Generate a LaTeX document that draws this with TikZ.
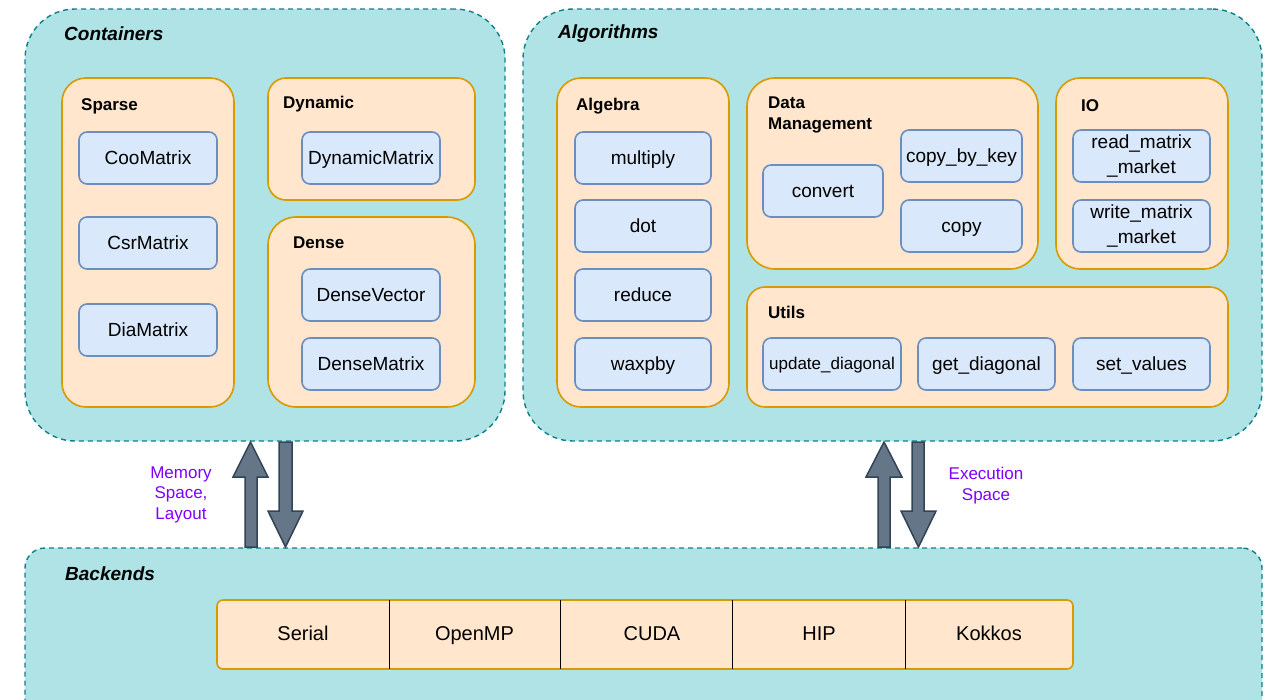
\documentclass[tikz,border=0pt]{standalone}
\usepackage{fontspec}
\setmainfont{Liberation Sans}
\definecolor{tealfill}{HTML}{B0E3E6}
\definecolor{tealline}{HTML}{0E8088}
\definecolor{orfill}{HTML}{FFE6CC}
\definecolor{orline}{HTML}{D79B00}
\definecolor{blfill}{HTML}{DAE8FC}
\definecolor{blline}{HTML}{6C8EBF}
\definecolor{arrfill}{HTML}{647687}
\definecolor{arrline}{HTML}{314354}
\definecolor{purp}{HTML}{7F00FF}
\tikzset{
  outerbox/.style={draw=tealline, fill=tealfill, line width=1.4pt, dash pattern=on 5pt off 4pt, inner sep=0pt},
  grpbox/.style={draw=orline, fill=orfill, line width=1.6pt, inner sep=0pt},
  itembox/.style={draw=blline, fill=blfill, line width=1.6pt, rounded corners=8pt, inner sep=0pt, minimum height=52pt, font=\fontsize{19}{24}\selectfont, align=center},
  oneline/.style={text height=15pt, text depth=3pt},
  titlelbl/.style={font=\fontsize{19}{23}\selectfont\bfseries\itshape, anchor=west, inner sep=0pt},
  grplbl/.style={font=\fontsize{17}{21}\selectfont\bfseries, anchor=west, inner sep=0pt, align=left},
  cell/.style={inner sep=0pt, minimum height=69pt, font=\fontsize{20}{24}\selectfont, text height=15.5pt, text depth=3pt},
  blockarrow/.style={draw=arrline, fill=arrfill, line width=1.5pt, line join=miter},
  arrlbl/.style={text=purp, font=\fontsize{17}{20.5}\selectfont, align=center, inner sep=0pt}
}
\begin{document}
\begin{tikzpicture}[x=1pt, y=-1pt]
\useasboundingbox (0,0) rectangle (1265,699);
\clip (0,0) rectangle (1265,699);

% outer areas
\node[outerbox, rounded corners=50pt, minimum width=480pt, minimum height=432pt] (cont) at (265,225) {};
\node[outerbox, rounded corners=50pt, minimum width=739pt, minimum height=432pt] (algo) at (892.5,225) {};
\node[outerbox, rounded corners=20pt, minimum width=1237pt, minimum height=192pt] (back) at (643.5,644) {};

\node[titlelbl] (contlbl) at (64,34) {Containers};
\node[titlelbl] (algolbl) at (558,34) {Algorithms};
\node[titlelbl] (backlbl) at (65,574) {Backends};

% Containers groups
\node[grpbox, rounded corners=24pt, minimum width=172pt, minimum height=329pt] (sparse) at (148,242.5) {};
\node[grpbox, rounded corners=18pt, minimum width=207pt, minimum height=122pt] (dynamic) at (371.5,139) {};
\node[grpbox, rounded corners=28pt, minimum width=207pt, minimum height=190pt] (dense) at (371.5,312) {};
\node[grplbl] (sparselbl) at (81,106) {Sparse};
\node[grplbl] (dynamiclbl) at (283,104) {Dynamic};
\node[grplbl] (denselbl) at (293,243) {Dense};

\node[itembox, oneline, minimum width=138pt] (coo) at (148,158) {CooMatrix};
\node[itembox, oneline, minimum width=138pt] (csr) at (148,243) {CsrMatrix};
\node[itembox, oneline, minimum width=138pt] (dia) at (148,330) {DiaMatrix};
\node[itembox, oneline, minimum width=138pt] (dynm) at (371,158) {DynamicMatrix};
\node[itembox, oneline, minimum width=138pt] (dvec) at (371,295) {DenseVector};
\node[itembox, oneline, minimum width=138pt] (dmat) at (371,364) {DenseMatrix};

% Algorithms groups
\node[grpbox, rounded corners=24pt, minimum width=172pt, minimum height=329pt] (algebra) at (643,242.5) {};
\node[grpbox, rounded corners=28pt, minimum width=291pt, minimum height=191pt] (datam) at (892.5,173.5) {};
\node[grpbox, rounded corners=24pt, minimum width=172pt, minimum height=191pt] (io) at (1142,173.5) {};
\node[grpbox, rounded corners=18pt, minimum width=481pt, minimum height=120pt] (utils) at (987.5,347) {};
\node[grplbl] (algebralbl) at (576,106) {Algebra};
\node[grplbl] (datamlbl) at (768,114.5) {Data\\Management};
\node[grplbl] (iolbl) at (1081,106) {IO};
\node[grplbl] (utilslbl) at (768,312) {Utils};

\node[itembox, oneline, minimum width=136pt] (mult) at (643,158) {multiply};
\node[itembox, oneline, minimum width=136pt] (dot) at (643,226) {dot};
\node[itembox, oneline, minimum width=136pt] (reduce) at (643,295) {reduce};
\node[itembox, oneline, minimum width=136pt] (waxpby) at (643,364) {waxpby};

\node[itembox, oneline, minimum width=120pt] (convert) at (823,191) {convert};
\node[itembox, oneline, minimum width=121pt] (cbk) at (961.5,156) {copy\_by\_key};
\node[itembox, oneline, minimum width=121pt] (copy) at (961.5,226) {copy};

\node[itembox, minimum width=137pt, font=\fontsize{19}{25}\selectfont] (rmm) at (1141.5,156) {read\_matrix\\\_market};
\node[itembox, minimum width=137pt, font=\fontsize{19}{25}\selectfont] (wmm) at (1141.5,226) {write\_matrix\\\_market};

\node[itembox, minimum width=138pt, font=\fontsize{17}{21}\selectfont, text height=13.5pt, text depth=3pt] (upd) at (832,364) {update\_diagonal};
\node[itembox, oneline, minimum width=137pt] (getd) at (986.5,364) {get\_diagonal};
\node[itembox, oneline, minimum width=137pt] (setv) at (1141.5,364) {set\_values};

% Backends strip
\node[grpbox, rounded corners=6pt, minimum width=856pt, minimum height=69pt] (strip) at (645,634.5) {};
\node[cell, minimum width=172pt] (serial) at (303,634.5) {Serial};
\node[cell, minimum width=171pt] (openmp) at (474.5,634.5) {OpenMP};
\node[cell] (cuda) at (652,634.5) {CUDA};
\node[cell, minimum width=172pt] (hip) at (819,634.5) {HIP};
\node[cell, minimum width=168pt] (kokkos) at (989,634.5) {Kokkos};
\draw[black, line width=1pt] (serial.north east) -- (serial.south east);
\draw[black, line width=1pt] (openmp.north east) -- (openmp.south east);
\draw[black, line width=1pt] (hip.north west) -- (hip.south west);
\draw[black, line width=1pt] (hip.north east) -- (hip.south east);

% block arrows
\draw[blockarrow] (245,547) -- (245,477) -- (233,477) -- (250.5,442) -- (268,477) -- (257,477) -- (257,547) -- cycle;
\draw[blockarrow] (279,442) -- (279,511) -- (268,511) -- (285.5,547) -- (303,511) -- (292,511) -- (292,442) -- cycle;
\draw[blockarrow] (878,547) -- (878,477) -- (866,477) -- (884,442) -- (902,477) -- (890,477) -- (890,547) -- cycle;
\draw[blockarrow] (912,442) -- (912,511) -- (901,511) -- (918.5,547) -- (936,511) -- (924,511) -- (924,442) -- cycle;

\node[arrlbl] (memlbl) at (181,494.5) {Memory\\Space,\\Layout};
\node[arrlbl] (exelbl) at (986,485.5) {Execution\\Space};
\end{tikzpicture}
\end{document}
